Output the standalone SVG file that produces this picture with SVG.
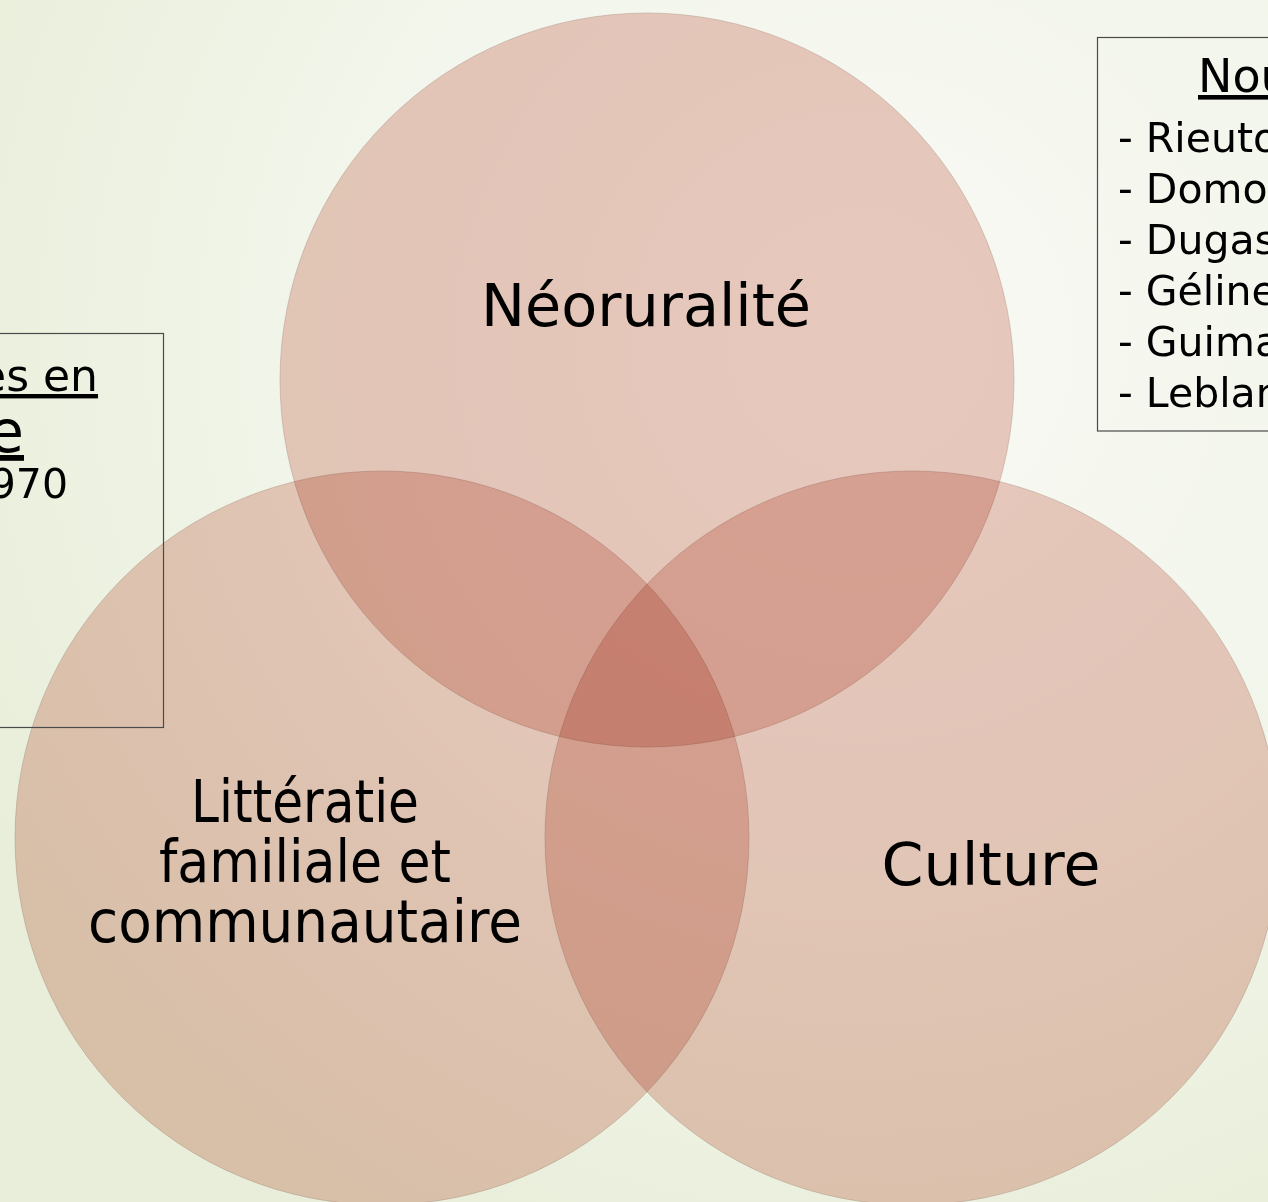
<svg xmlns="http://www.w3.org/2000/svg" width="1268" height="1202" viewBox="0 0 1268 1202">
  <defs>
    <radialGradient id="bg" gradientUnits="userSpaceOnUse" cx="860" cy="340" r="1000">
      <stop offset="0" stop-color="#f8f9f4"/>
      <stop offset="0.5" stop-color="#f3f6ec"/>
      <stop offset="1" stop-color="#e8eed9"/>
    </radialGradient>
  </defs>
  <style>
    .c { fill: #eecdc6; mix-blend-mode: multiply; stroke: #b89a90; stroke-opacity: 0.45; stroke-width: 1; }
    .lbl { font-family: "DejaVu Sans", "Liberation Sans", sans-serif; font-size: 58px; fill: #000; text-anchor: middle; }
    .box { fill: none; stroke: #4a4a4a; stroke-width: 1.2; }
    .bt { font-family: "DejaVu Sans", "Liberation Sans", sans-serif; font-size: 41px; fill: #000; }
    .u { text-decoration: underline; }
  </style>
  <rect x="0" y="0" width="1268" height="1202" fill="url(#bg)"/>

  <g id="node-neoruralite">
    <circle class="c" cx="647" cy="380" r="367"/>
    <text class="lbl" x="646" y="326" textLength="330" lengthAdjust="spacingAndGlyphs">Néoruralité</text>
  </g>
  <g id="node-litteratie">
    <circle class="c" cx="382" cy="838" r="367"/>
    <text class="lbl" x="305" y="822" textLength="228" lengthAdjust="spacingAndGlyphs">Littératie</text>
    <text class="lbl" x="305" y="882" textLength="292" lengthAdjust="spacingAndGlyphs">familiale et</text>
    <text class="lbl" x="305" y="942" textLength="434" lengthAdjust="spacingAndGlyphs">communautaire</text>
  </g>
  <g id="node-culture">
    <circle class="c" cx="912" cy="838" r="367"/>
    <text class="lbl" x="991" y="885" textLength="219" lengthAdjust="spacingAndGlyphs">Culture</text>
  </g>

  <g id="box-left">
    <rect class="box" x="-10" y="333.5" width="173.5" height="394"/>
    <text class="bt u" x="98" y="391" style="font-size:44px" text-anchor="end">es en</text>
    <text class="bt u" x="24" y="452" style="font-size:58px" text-anchor="end">e</text>
    <text class="bt" x="68" y="498" text-anchor="end">970</text>
  </g>

  <g id="box-right">
    <rect class="box" x="1097.5" y="37.5" width="200" height="393.5"/>
    <text class="bt u" x="1198" y="92" style="font-size:46px">Nou</text>
    <text class="bt" x="1118" y="152">- Rieuto</text>
    <text class="bt" x="1118" y="203">- Domo</text>
    <text class="bt" x="1118" y="254">- Dugas</text>
    <text class="bt" x="1118" y="305">- Géline</text>
    <text class="bt" x="1118" y="356">- Guima</text>
    <text class="bt" x="1118" y="407">- Leblan</text>
  </g>
</svg>
